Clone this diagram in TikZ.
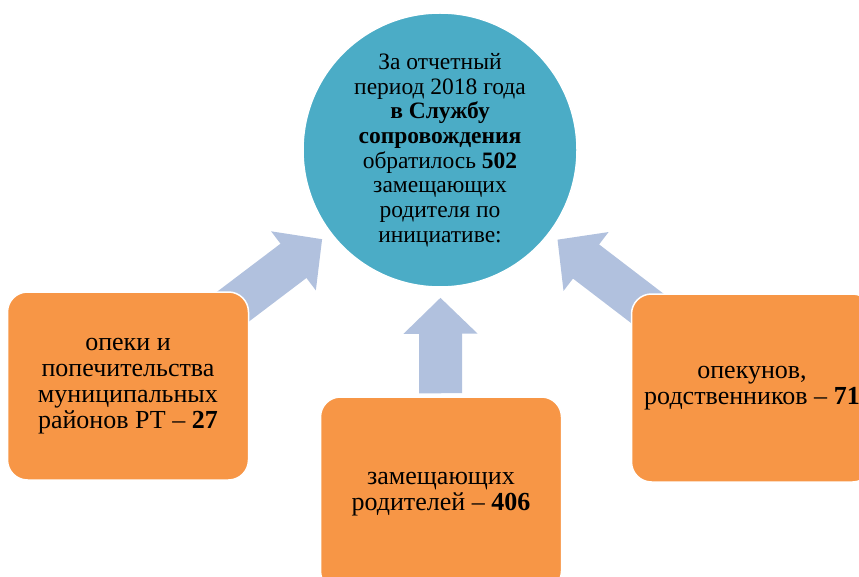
\documentclass[tikz,border=0pt]{standalone}
\usepackage{fontspec}
\setmainfont{Liberation Serif}
\usetikzlibrary{arrows.meta,backgrounds}
\definecolor{circteal}{HTML}{4BACC6}
\definecolor{boxorange}{HTML}{F79646}
\definecolor{arrowblue}{HTML}{B1C1DE}

\begin{document}
\begin{tikzpicture}[x=1pt,y=-1pt,
    bigarrow/.style={arrowblue,line width=43pt,-{Triangle[length=36pt,width=72pt]}}]
  \tikzstyle{source}=[rectangle,rounded corners=20pt,draw=white,line width=1.5pt,fill=boxorange,minimum width=241pt,minimum height=188pt,align=center,font=\fontsize{26}{26}\selectfont]
  \useasboundingbox (0,0) rectangle (859,577);
  % Nodes
  \node[circle,draw=white,line width=1.5pt,fill=circteal,minimum size=274pt,align=center,font=\fontsize{23.5}{24.7}\selectfont] (circ) at (440,150)
    {За отчетный\\период 2018 года\\\textbf{в Службу}\\\textbf{сопровождения}\\обратилось \textbf{502}\\замещающих\\родителя по\\инициативе:};
  \node[source] (lbox) at (128,386) {опеки и\\попечительства\\муниципальных\\районов РТ -- \textbf{27}};
  \node[source,minimum height=194pt] (mbox) at (441,494) {замещающих\\родителей -- \textbf{406}};
  \node[source] (rbox) at (752,388) {опекунов,\\родственников -- \textbf{71}};
  % Arrows
  \begin{scope}[on background layer]
    \path[bigarrow,shorten <=-30pt,shorten >=10pt] (lbox) edge (circ);
    \path[bigarrow,shorten <=3pt,shorten >=10pt] (mbox) edge (circ);
    \path[bigarrow,shorten <=-30pt,shorten >=10pt] (rbox) edge (circ);
  \end{scope}
\end{tikzpicture}
\end{document}
